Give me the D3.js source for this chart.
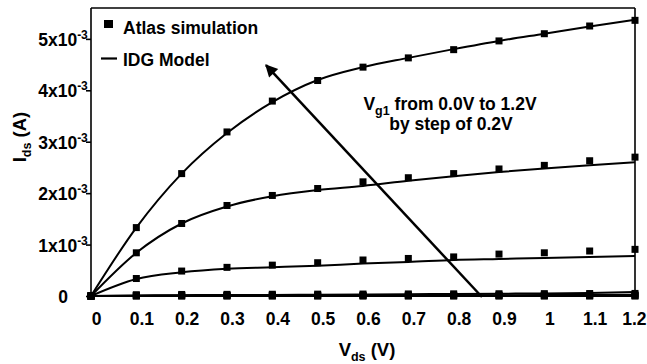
<!DOCTYPE html>
<html>
<head>
<meta charset="utf-8">
<script src="https://cdn.jsdelivr.net/npm/d3@7"></script>
<style>
  html, body { margin: 0; padding: 0; background: #fff; }
  svg { display: block; }
  text { font-family: "Liberation Sans", Arial, sans-serif; font-weight: bold; fill: #000; }
</style>
</head>
<body>
<svg id="chart" width="647" height="364"></svg>
<script>
// ---- Data (currents in units of 1e-3 A) ----
const vds = [0, 0.1, 0.2, 0.3, 0.4, 0.5, 0.6, 0.7, 0.8, 0.9, 1.0, 1.1, 1.2];
const vgLevels = [0.0, 0.2, 0.4, 0.6, 0.8, 1.0, 1.2];

const atlasVg00 = [0, 0, 0, 0, 0, 0, 0, 0, 0, 0, 0, 0, 0];
const atlasVg02 = [0, 0.003, 0.004, 0.005, 0.005, 0.005, 0.006, 0.006, 0.006, 0.006, 0.006, 0.007, 0.007];
const atlasVg04 = [0, 0.01, 0.012, 0.013, 0.014, 0.015, 0.016, 0.017, 0.018, 0.019, 0.02, 0.02, 0.021];
const atlasVg06 = [0, 0.025, 0.03, 0.032, 0.034, 0.036, 0.038, 0.04, 0.042, 0.044, 0.046, 0.048, 0.05];
const atlasVg08 = [0, 0.34, 0.485, 0.557, 0.60, 0.647, 0.70, 0.73, 0.76, 0.815, 0.84, 0.875, 0.907];
const atlasVg10 = [0, 0.84, 1.41, 1.76, 1.955, 2.09, 2.22, 2.30, 2.38, 2.47, 2.54, 2.63, 2.70];
const atlasVg12 = [0, 1.33, 2.38, 3.19, 3.79, 4.19, 4.45, 4.63, 4.79, 4.96, 5.10, 5.25, 5.36];

const modelVg00 = [0, 0, 0, 0, 0, 0, 0, 0, 0, 0, 0, 0, 0];
const modelVg02 = [0, 0.002, 0.003, 0.004, 0.004, 0.005, 0.005, 0.005, 0.006, 0.006, 0.006, 0.007, 0.008];
const modelVg04 = [0, 0.006, 0.008, 0.01, 0.011, 0.012, 0.013, 0.014, 0.015, 0.016, 0.018, 0.02, 0.025];
const modelVg06 = [0, 0.01, 0.015, 0.02, 0.02, 0.025, 0.03, 0.035, 0.04, 0.045, 0.05, 0.06, 0.08];
const modelVg08 = [0, 0.33, 0.46, 0.53, 0.56, 0.59, 0.63, 0.66, 0.70, 0.72, 0.74, 0.76, 0.78];
const modelVg10 = [0, 0.84, 1.41, 1.74, 1.94, 2.06, 2.14, 2.24, 2.33, 2.41, 2.48, 2.54, 2.60];
const modelVg12 = [0, 1.33, 2.38, 3.17, 3.77, 4.20, 4.45, 4.63, 4.80, 4.96, 5.10, 5.24, 5.37];

const atlasSeries = [atlasVg00, atlasVg02, atlasVg04, atlasVg06, atlasVg08, atlasVg10, atlasVg12];
const modelSeries = [modelVg00, modelVg02, modelVg04, modelVg06, modelVg08, modelVg10, modelVg12];

const xTicks = [0, 0.1, 0.2, 0.3, 0.4, 0.5, 0.6, 0.7, 0.8, 0.9, 1, 1.1, 1.2];
const xTickLabels = ["0", "0.1", "0.2", "0.3", "0.4", "0.5", "0.6", "0.7", "0.8", "0.9", "1", "1.1", "1.2"];
const yTicks = [0, 1, 2, 3, 4, 5];
const yTickMantissa = ["0", "1x10", "2x10", "3x10", "4x10", "5x10"];
const yTickExponent = ["", "-3", "-3", "-3", "-3", "-3"];

// arrow annotation (data coords): from tail to head
const arrowTail = [0.8625, 0];
const arrowHead = [0.386, 4.49];

// ---- Layout ----
const svg = d3.select("#chart");
const W = 647;
const pLeft = 91, pRight = 635, pTop = 8, pBottom = 296;
const x = d3.scaleLinear().domain([0, 1.2]).range([pLeft, pRight]);
const y = d3.scaleLinear().domain([0, 5.6]).range([pBottom, pTop]);

// frame: top and right
svg.append("line").attr("x1", pLeft).attr("x2", pRight).attr("y1", pTop).attr("y2", pTop)
  .attr("stroke", "#000").attr("stroke-width", 1.6);
svg.append("line").attr("x1", pRight).attr("x2", pRight).attr("y1", pTop).attr("y2", pBottom)
  .attr("stroke", "#000").attr("stroke-width", 1.6);

// y axis
const yAxis = svg.append("g").attr("transform", `translate(${pLeft},0)`)
  .call(d3.axisLeft(y).tickValues(yTicks).tickSize(5).tickSizeOuter(0).tickFormat(() => ""));
yAxis.select(".domain").attr("stroke", "#000").attr("stroke-width", 1.6)
  .attr("d", `M0,${pTop}V${pBottom}`);
yAxis.selectAll(".tick line").attr("stroke", "#000").attr("stroke-width", 1.6);

const yLab = svg.append("g").selectAll("text").data(yTicks).join("text")
  .attr("x", 63).attr("y", d => y(d) + 7)
  .attr("text-anchor", "middle")
  .style("font-size", "17.5px");
yLab.append("tspan").text((d, i) => yTickMantissa[i]);
yLab.append("tspan").attr("dy", -7).style("font-size", "12px").text((d, i) => yTickExponent[i]);

// x axis labels (no visible axis line)
const xAxis = svg.append("g").attr("transform", `translate(0,${pBottom})`)
  .call(d3.axisBottom(x).tickValues(xTicks).tickSize(0).tickFormat((d, i) => xTickLabels[i]));
xAxis.select(".domain").remove();
xAxis.selectAll(".tick text")
  .attr("y", 0).attr("dy", 0)
  .attr("fill", "#000")
  .style("font-size", "17.5px")
  .style("font-family", "'Liberation Sans', Arial, sans-serif")
  .style("font-weight", "bold")
  .attr("transform", function(d) {
    // shift labels slightly right, but keep the last one inside the page
    const w = this.getComputedTextLength();
    let dx = 5;
    const cx = x(d) + dx;
    if (cx + w / 2 > W - 1) dx = W - 1 - w / 2 - x(d);
    return `translate(${dx},29)`;
  });

// axis titles
const xt = svg.append("text").attr("x", 367).attr("y", 356).attr("text-anchor", "middle").style("font-size", "18.5px");
xt.append("tspan").text("V");
xt.append("tspan").attr("dy", 5).style("font-size", "12.5px").text("ds");
xt.append("tspan").attr("dy", -5).text(" (V)");

const yt = svg.append("text").attr("transform", "translate(26,137) rotate(-90)").attr("text-anchor", "middle").style("font-size", "18.5px");
yt.append("tspan").text("I");
yt.append("tspan").attr("dy", 5).style("font-size", "12.5px").text("ds");
yt.append("tspan").attr("dy", -5).text(" (A)");

// model lines
const line = d3.line().x(d => x(d[0])).y(d => y(d[1])).curve(d3.curveMonotoneX);
svg.append("g").selectAll("path").data(modelSeries).join("path")
  .attr("d", s => line(vds.map((v, i) => [v, s[i]])))
  .attr("fill", "none").attr("stroke", "#000").attr("stroke-width", 2);

// atlas markers
const ms = 7;
svg.append("g").selectAll("g").data(atlasSeries).join("g")
  .selectAll("rect").data(s => vds.map((v, i) => [v, s[i]])).join("rect")
  .attr("x", d => x(d[0]) - ms / 2).attr("y", d => y(d[1]) - ms / 2)
  .attr("width", ms).attr("height", ms).attr("fill", "#000");

// arrow
svg.append("defs").append("marker").attr("id", "ah")
  .attr("viewBox", "0 0 10 10").attr("refX", 9).attr("refY", 5)
  .attr("markerWidth", 5.5).attr("markerHeight", 5).attr("markerUnits", "strokeWidth")
  .attr("orient", "auto")
  .append("path").attr("d", "M0,0L10,5L0,10z").attr("fill", "#000");
svg.append("line")
  .attr("x1", x(arrowTail[0])).attr("y1", y(arrowTail[1]) + 1)
  .attr("x2", x(arrowHead[0])).attr("y2", y(arrowHead[1]))
  .attr("stroke", "#000").attr("stroke-width", 2.5).attr("marker-end", "url(#ah)");

// annotation
const a1 = svg.append("text").attr("x", 450).attr("y", 110).attr("text-anchor", "middle").style("font-size", "17.5px");
a1.append("tspan").text("V");
a1.append("tspan").attr("dy", 5).style("font-size", "12.5px").text("g1");
a1.append("tspan").attr("dy", -5).text(" from 0.0V to 1.2V");
svg.append("text").attr("x", 451).attr("y", 130).attr("text-anchor", "middle").style("font-size", "17.5px")
  .text("by step of 0.2V");

// legend
svg.append("rect").attr("x", 104).attr("y", 20).attr("width", 9).attr("height", 8).attr("fill", "#000");
svg.append("text").attr("x", 123).attr("y", 34).style("font-size", "17.5px").text("Atlas simulation");
svg.append("line").attr("x1", 101).attr("x2", 117).attr("y1", 58.5).attr("y2", 58.5)
  .attr("stroke", "#000").attr("stroke-width", 2.2);
svg.append("text").attr("x", 123).attr("y", 65.5).style("font-size", "17.5px").text("IDG Model");
</script>
</body>
</html>
